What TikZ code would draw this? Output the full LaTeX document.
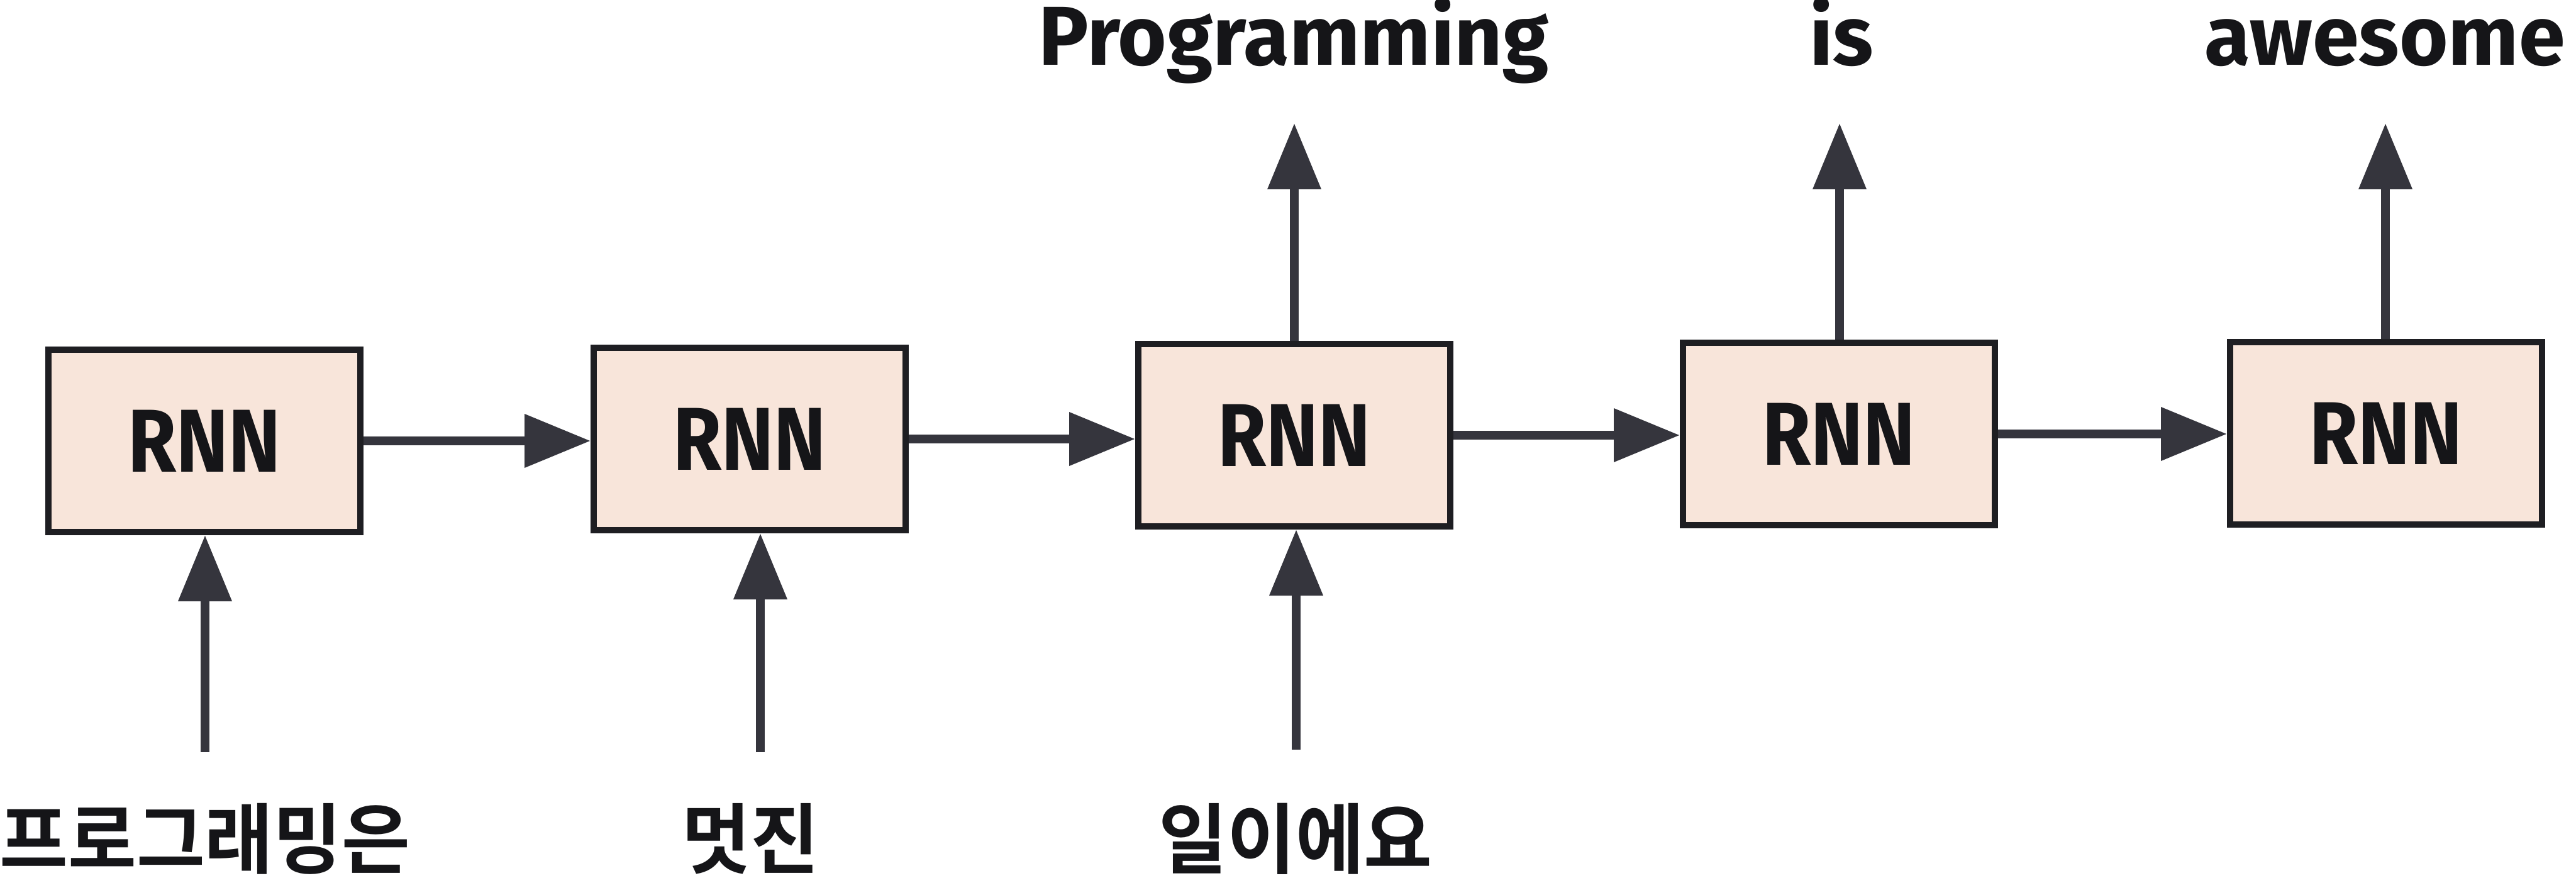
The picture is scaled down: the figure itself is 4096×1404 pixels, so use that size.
\documentclass[tikz,border=0pt]{standalone}
\usepackage{fontspec}
\usetikzlibrary{arrows.meta}
\setmainfont{Fira Sans}
\newfontfamily\krfont{Noto Sans CJK KR}[BoldFont={* Bold}]
\definecolor{boxfill}{HTML}{F8E5DA}
\definecolor{boxline}{HTML}{1E1E22}
\definecolor{arrowcol}{HTML}{35353D}
\definecolor{txt}{HTML}{151518}
\tikzset{
  rnnbox/.style={draw=boxline, fill=boxfill, line width=10pt, minimum width=496pt, minimum height=290pt, inner sep=0pt},
  rnnlabel/.style={font=\fontsize{142}{142}\selectfont\bfseries, text=txt, inner sep=0pt},
  conn/.style={draw=arrowcol, line width=14pt, -{Triangle[length=105pt, width=82pt]}, color=arrowcol},
  outword/.style={font=\fontsize{133}{133}\selectfont\bfseries, text=txt, inner sep=0pt, anchor=base},
  inword/.style={font=\krfont\fontsize{122}{122}\selectfont\bfseries, text=txt, inner sep=0pt, xscale=0.97}
}
\begin{document}
\begin{tikzpicture}[x=1pt, y=-1pt]
\useasboundingbox (0,0) rectangle (4096,1404);
% boxes
\node[rnnbox] (b1) at (325,701) {};
\node[rnnbox] (b2) at (1192,698) {};
\node[rnnbox] (b3) at (2058,692) {};
\node[rnnbox] (b4) at (2924,690) {};
\node[rnnbox] (b5) at (3794,689) {};
\foreach \i in {1,...,5}{
  \node[rnnlabel, xscale=0.88] (t\i) at (b\i) {RNN};
}
% recurrent arrows
\draw[conn] (b1.east) -- (b1.east -| b2.west);
\draw[conn] (b2.east) -- (b2.east -| b3.west);
\draw[conn] (b3.east) -- (b3.east -| b4.west);
\draw[conn] (b4.east) -- (b4.east -| b5.west);
% inputs
\node[inword] (x1) at (326,1334) {프로그래밍은};
\node[inword] (x2) at (1193,1334) {멋진};
\node[inword] (x3) at (2060,1334) {일이에요};
\coordinate (i1) at (326,1196);
\coordinate (i2) at (1209,1196);
\coordinate (i3) at (2061,1192);
\draw[conn] (i1) -- (i1 |- b1.south);
\draw[conn] (i2) -- (i2 |- b2.south);
\draw[conn] (i3) -- (i3 |- b3.south);
% outputs
\coordinate (o3) at (2058,196);
\coordinate (o4) at (2925,196);
\coordinate (o5) at (3793,196);
\draw[conn] (o3 |- b3.north) -- (o3);
\draw[conn] (o4 |- b4.north) -- (o4);
\draw[conn] (o5 |- b5.north) -- (o5);
\node[outword] (y3) at (2057,104) {Programming};
\node[outword] (y4) at (2928,104) {is};
\node[outword] (y5) at (3792,104) {awesome};
\end{tikzpicture}
\end{document}
